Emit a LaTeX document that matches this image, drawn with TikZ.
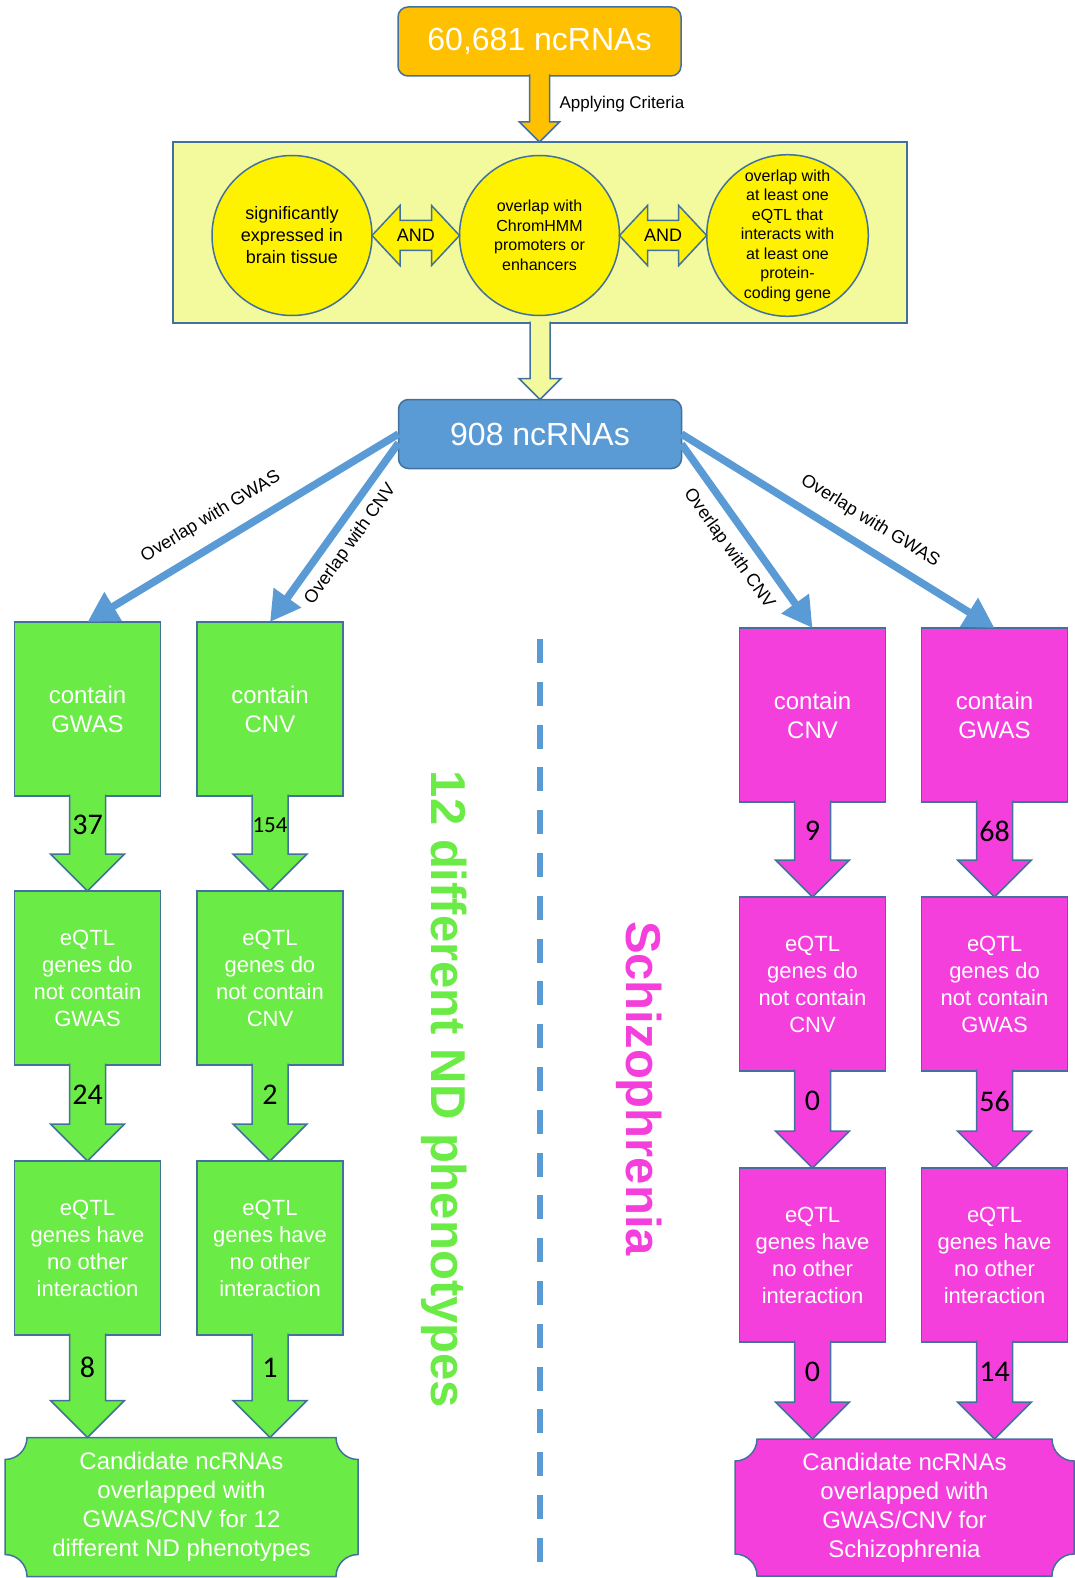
\documentclass[tikz,border=0pt]{standalone}
\usepackage{fontspec}
\setmainfont{Liberation Sans}
\newfontfamily\numfont{Carlito}
\usetikzlibrary{arrows.meta,calc,backgrounds}

\definecolor{edgeblue}{HTML}{41719C}
\definecolor{boxorange}{HTML}{FFC000}
\definecolor{boxblue}{HTML}{5B9BD5}
\definecolor{crityellow}{HTML}{F3F99D}
\definecolor{ndgreen}{HTML}{6BEB45}
\definecolor{szpink}{HTML}{F43FDC}

\tikzset{
  edgeline/.style={draw=edgeblue, line width=1.5pt},
  rnabox/.style={edgeline, rounded corners=10pt, minimum width=283pt, minimum height=69pt, outer sep=0pt, text=white, font=\fontsize{32}{38}\selectfont},
  critbox/.style={edgeline, fill=crityellow, minimum width=734pt, minimum height=181pt, outer sep=0pt},
  critcircle/.style={edgeline, fill=yellow, circle, minimum size=160pt, inner sep=0pt, outer sep=0pt, align=center},
  stepbox/.style={edgeline, minimum width=146pt, minimum height=174pt, inner sep=0pt, outer sep=0pt, text=white, align=center, font=\fontsize{22}{27}\selectfont},
  resultbox/.style={inner sep=0pt, outer sep=0pt, text=white, align=center, font=\fontsize{24}{29}\selectfont},
  link/.style={draw=boxblue, line width=7.5pt, -{Triangle[length=30pt,width=32pt]}},
  linklabel/.style={sloped, inner sep=0pt, text=black, font=\fontsize{18}{21}\selectfont},
  count/.style={inner sep=0pt, text=black, font=\numfont\fontsize{30}{36}\selectfont},
  sidetitle/.style={rotate=-90, font=\bfseries\fontsize{49}{58}\selectfont},
  divider/.style={draw=boxblue, line width=5.5pt, dash pattern=on 24pt off 18.8pt}
}

\newcommand{\blockarrow}[5]{%
  \draw[edgeline, fill=#3] let \p1=(#1.south), \p2=(#2.north) in
    (\x1-#4pt,\y1+1.5pt) -- (\x1-#4pt,\y2+#5pt) -- (\x1-#5pt,\y2+#5pt) -- (\x1,\y2)
    -- (\x1+#5pt,\y2+#5pt) -- (\x1+#4pt,\y2+#5pt) -- (\x1+#4pt,\y1+1.5pt);
}
\newcommand{\countarrow}[6][]{%
  \blockarrow{#2}{#3}{#4}{18}{37}
  \path let \p1=(#2.south), \p2=(#3.north) in
    node[count,#1] (#5) at (\x1,{0.5*(\y1+\y2)+18.5pt}) {#6};
}
\newcommand{\andarrow}[3]{%
  \draw[edgeline, fill=yellow] let \p1=(#1.east), \p2=(#2.west) in
    (\x1,\y1) -- (\x1+28pt,\y1+30pt) -- (\x1+28pt,\y1+15pt) -- (\x2-28pt,\y1+15pt)
    -- (\x2-28pt,\y1+30pt) -- (\x2,\y1) -- (\x2-28pt,\y1-30pt) -- (\x2-28pt,\y1-15pt)
    -- (\x1+28pt,\y1-15pt) -- (\x1+28pt,\y1-30pt) -- cycle
    node[font=\fontsize{18}{22}\selectfont] (#3) at ({0.5*(\x1+\x2)},\y1) {AND};
}
\newcommand{\plaque}[2]{%
  \draw[edgeline, fill=#2] let \p1=(#1.north west), \p2=(#1.south east) in
    (\x1+22pt,\y1) -- (\x2-22pt,\y1) arc[start angle=180, end angle=270, radius=22pt]
    -- (\x2,\y2+22pt) arc[start angle=90, end angle=180, radius=22pt]
    -- (\x1+22pt,\y2) arc[start angle=0, end angle=90, radius=22pt]
    -- (\x1,\y1-22pt) arc[start angle=270, end angle=360, radius=22pt] -- cycle;
}

\begin{document}
\begin{tikzpicture}[x=1pt, y=-1pt]
  \useasboundingbox (0,0) rectangle (1075,1578);

  \node[rnabox, fill=boxorange] (allrna) at (539.5,41.5) {60,681 ncRNAs};
  \node[critbox] (crit) at (540,232.5) {};
  \node[critcircle, font=\fontsize{18}{22}\selectfont] (expr) at (292,235.5) {significantly\\ expressed in\\ brain tissue};
  \node[critcircle, font=\fontsize{16}{19.5}\selectfont] (chrom) at (539.5,235.5) {overlap with\\ ChromHMM\\ promoters or\\ enhancers};
  \node[critcircle, font=\fontsize{16}{19.5}\selectfont] (eqtl) at (787.5,235.5) {overlap with\\ at least one\\ eQTL that\\ interacts with\\ at least one\\ protein-\\ coding gene};
  \andarrow{expr}{chrom}{and1}
  \andarrow{chrom}{eqtl}{and2}
  \node[rnabox, fill=boxblue] (selrna) at (540,434) {908 ncRNAs};

  \blockarrow{allrna}{crit}{boxorange}{10}{20}
  \node[anchor=west, font=\fontsize{17}{20}\selectfont] (crittext) at (556,104) {Applying Criteria};
  \blockarrow{crit}{selrna}{crityellow}{10}{21}

  \node[stepbox, fill=ndgreen, font=\fontsize{24}{29}\selectfont] (g11) at (87.5,709) {contain\\ GWAS};
  \node[stepbox, fill=ndgreen, font=\fontsize{24}{29}\selectfont] (g12) at (270,709) {contain\\ CNV};
  \node[stepbox, fill=ndgreen] (g21) at (87.5,978) {eQTL\\ genes do\\ not contain\\ GWAS};
  \node[stepbox, fill=ndgreen] (g22) at (270,978) {eQTL\\ genes do\\ not contain\\ CNV};
  \node[stepbox, fill=ndgreen] (g31) at (87.5,1248) {eQTL\\ genes have\\ no other\\ interaction};
  \node[stepbox, fill=ndgreen] (g32) at (270,1248) {eQTL\\ genes have\\ no other\\ interaction};
  \node[resultbox, minimum width=353pt, minimum height=139pt] (gcand) at (181.5,1507) {Candidate ncRNAs\\ overlapped with\\ GWAS/CNV for 12\\ different ND phenotypes};

  \node[stepbox, fill=szpink, font=\fontsize{24}{29}\selectfont] (p11) at (812.5,715) {contain\\ CNV};
  \node[stepbox, fill=szpink, font=\fontsize{24}{29}\selectfont] (p12) at (994.5,715) {contain\\ GWAS};
  \node[stepbox, fill=szpink] (p21) at (812.5,984) {eQTL\\ genes do\\ not contain\\ CNV};
  \node[stepbox, fill=szpink] (p22) at (994.5,984) {eQTL\\ genes do\\ not contain\\ GWAS};
  \node[stepbox, fill=szpink] (p31) at (812.5,1255) {eQTL\\ genes have\\ no other\\ interaction};
  \node[stepbox, fill=szpink] (p32) at (994.5,1255) {eQTL\\ genes have\\ no other\\ interaction};
  \node[resultbox, minimum width=339pt, minimum height=137pt] (pcand) at (904.5,1507.5) {Candidate ncRNAs\\ overlapped with\\ GWAS/CNV for\\ Schizophrenia};

  \begin{scope}[on background layer]
    \plaque{gcand}{ndgreen}
    \plaque{pcand}{szpink}
  \end{scope}

  \countarrow{g11}{g21}{ndgreen}{n37}{37}
  \countarrow[font=\numfont\fontsize{23}{28}\selectfont]{g12}{g22}{ndgreen}{n154}{154}
  \countarrow{g21}{g31}{ndgreen}{n24}{24}
  \countarrow{g22}{g32}{ndgreen}{n2}{2}
  \countarrow{g31}{gcand}{ndgreen}{n8}{8}
  \countarrow{g32}{gcand}{ndgreen}{n1}{1}

  \countarrow{p11}{p21}{szpink}{n9}{9}
  \countarrow{p12}{p22}{szpink}{n68}{68}
  \countarrow{p21}{p31}{szpink}{n0a}{0}
  \countarrow{p22}{p32}{szpink}{n56}{56}
  \countarrow{p31}{pcand}{szpink}{n0b}{0}
  \countarrow{p32}{pcand}{szpink}{n14}{14}

  \draw[link] (selrna.west) -- node[linklabel, pos=0.56, above=14pt] (lgwas) {Overlap with GWAS} (g11.north);
  \draw[link] ([yshift=-9pt]selrna.west) -- node[linklabel, pos=0.5, below=8pt] (lcnv) {Overlap with CNV} (g12.north);
  \draw[link] ([yshift=-10pt]selrna.east) -- node[linklabel, pos=0.5, below=10pt] (rcnv) {Overlap with CNV} (p11.north);
  \draw[link] (selrna.east) -- node[linklabel, pos=0.56, above=13pt] (rgwas) {Overlap with GWAS} (p12.north);

  \coordinate (dtop) at (540,639);
  \coordinate (dbot) at (540,1563);
  \draw[divider] (dtop) -- (dbot);
  \node[sidetitle, text=ndgreen] (ndtitle) at (444,1089.5) {12 different ND phenotypes};
  \node[sidetitle, text=szpink] (sztitle) at (639,1088.5) {Schizophrenia};
\end{tikzpicture}
\end{document}
